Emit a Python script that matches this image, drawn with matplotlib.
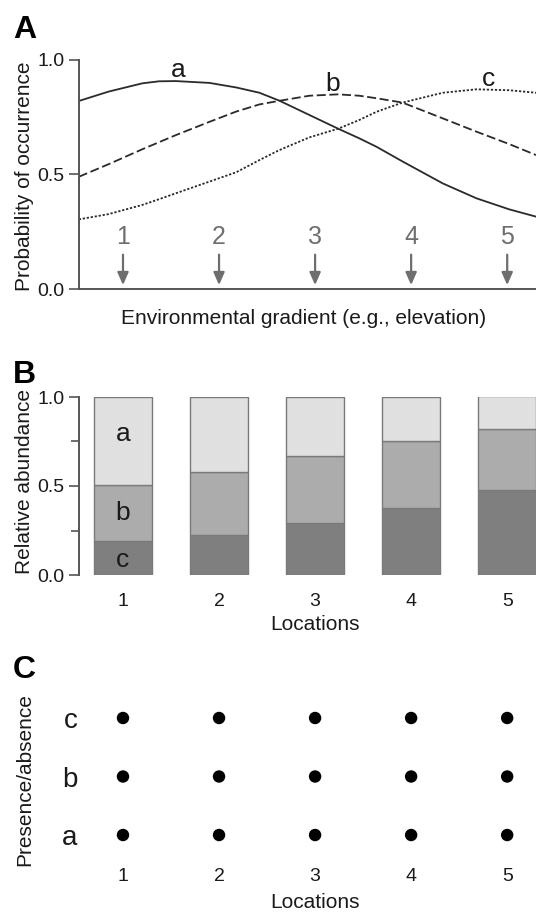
import matplotlib
matplotlib.use("Agg")
import matplotlib.pyplot as plt

plt.rcParams['font.family'] = ['Liberation Sans', 'DejaVu Sans']
plt.rcParams['lines.scale_dashes'] = False

# ---------------- data ----------------
locations = [1, 2, 3, 4, 5]
location_labels = ['1', '2', '3', '4', '5']
species = ['a', 'b', 'c']

# Panel A: probability of occurrence along the gradient
gradient_x = [0.54, 0.85, 1.2, 1.375, 1.55, 1.9, 2.18, 2.42, 2.63, 2.94, 3.24,
              3.46, 3.64, 3.91, 4.33, 4.68, 5.02, 5.30]
prob_a = [0.821, 0.862, 0.898, 0.907, 0.908, 0.900, 0.880, 0.857, 0.822, 0.760, 0.700,
          0.658, 0.621, 0.557, 0.461, 0.396, 0.348, 0.316]
prob_b = [0.490, 0.545, 0.610, 0.641, 0.672, 0.730, 0.775, 0.806, 0.822, 0.844, 0.850,
          0.844, 0.833, 0.814, 0.745, 0.687, 0.633, 0.585]
prob_c = [0.304, 0.327, 0.367, 0.392, 0.418, 0.469, 0.510, 0.563, 0.607, 0.662, 0.700,
          0.738, 0.774, 0.814, 0.857, 0.872, 0.868, 0.857]

# Panel B: relative abundance (stacked, c at bottom)
abund_c = [0.190, 0.223, 0.290, 0.378, 0.478]
abund_b = [0.317, 0.357, 0.377, 0.372, 0.345]
abund_a = [0.493, 0.420, 0.333, 0.250, 0.185]

# Panel C: presence/absence (1 = present)
presence = {'a': [1, 1, 1, 1, 1], 'b': [1, 1, 1, 1, 1], 'c': [1, 1, 1, 1, 1]}

# ---------------- layout ----------------
W, H = 536, 913
fig = plt.figure(figsize=(W / 100, H / 100), dpi=100)


def rect(l, t, r, b):
    return [l / W, 1 - b / H, (r - l) / W, (b - t) / H]


axA = fig.add_axes(rect(79, 60, 536, 289))
axB = fig.add_axes(rect(79, 397, 536, 575))
axC = fig.add_axes(rect(79, 695, 536, 860))

XLIM = (0.542, 5.30)
spine_col = '#555555'
txt_col = '#1a1a1a'
gray = '#6e6e6e'
line_col = '#2a2a2a'
TICK = 14
LET = 19

for ax in (axA, axB, axC):
    ax.set_xlim(*XLIM)
    for s in ('top', 'right'):
        ax.spines[s].set_visible(False)
    for s in ('left', 'bottom'):
        ax.spines[s].set_color(spine_col)
        ax.spines[s].set_linewidth(1.4)

# ---------------- Panel A ----------------
axA.plot(gradient_x, prob_a, color=line_col, lw=1.3, solid_joinstyle='round')
axA.plot(gradient_x, prob_b, color=line_col, lw=1.3, dashes=(6.5, 2.6))
axA.plot(gradient_x, prob_c, color=line_col, lw=1.3, dashes=(1.6, 1.3))
axA.set_ylim(0, 1)
axA.set_yticks([0, 0.5, 1.0])
axA.set_yticklabels(['0.0', '0.5', '1.0'])
axA.set_xticks([])
axA.tick_params(axis='y', length=7.5, width=1.2, color=spine_col, pad=3,
                labelsize=TICK, labelcolor=txt_col)
axA.text(1.58, 0.955, 'a', ha='center', va='center', fontsize=LET, color=txt_col)
axA.text(3.18, 0.895, 'b', ha='center', va='center', fontsize=LET, color=txt_col)
axA.text(4.81, 0.915, 'c', ha='center', va='center', fontsize=LET, color=txt_col)
for loc, lab in zip(locations, location_labels):
    axA.annotate('', xy=(loc, 0.017), xytext=(loc, 0.15),
                 arrowprops=dict(arrowstyle='-|>,head_length=0.5,head_width=0.22',
                                 color=gray, lw=1.6, mutation_scale=15,
                                 shrinkA=0, shrinkB=0))
    axA.text(loc, 0.227, lab, ha='center', va='center', fontsize=18, color=gray)
axA.set_xlabel('Environmental gradient (e.g., elevation)', fontsize=15, color=txt_col)
axA.xaxis.set_label_coords(0.492, (289 - 318) / 229)
axA.xaxis.label.set_va('center')
axA.set_ylabel('Probability of occurrence', fontsize=15, color=txt_col)
axA.yaxis.set_label_coords(-0.119, 0.493)
axA.yaxis.label.set_va('center')

# ---------------- Panel B ----------------
bar_w = 0.6
edge = '#7a7a7a'
bottom_b = [c for c in abund_c]
bottom_a = [c + b for c, b in zip(abund_c, abund_b)]
axB.bar(locations, abund_c, width=bar_w, color='#7f7f7f', edgecolor=edge, lw=1.0)
axB.bar(locations, abund_b, width=bar_w, bottom=bottom_b, color='#acacac',
        edgecolor=edge, lw=1.0)
axB.bar(locations, abund_a, width=bar_w, bottom=bottom_a, color='#e0e0e0',
        edgecolor=edge, lw=1.0)
axB.set_ylim(0, 1)
axB.spines['bottom'].set_visible(False)
axB.set_yticks([0, 0.5, 1.0])
axB.set_yticklabels(['0.0', '0.5', '1.0'])
axB.set_yticks([0.25, 0.75], minor=True)
axB.tick_params(axis='y', which='major', length=7.5, width=1.2, color=spine_col,
                pad=3, labelsize=TICK, labelcolor=txt_col)
axB.tick_params(axis='y', which='minor', length=5.5, width=1.2, color=spine_col)
axB.set_xticks(locations)
axB.set_xticklabels(location_labels)
axB.tick_params(axis='x', length=0, pad=13, labelsize=TICK, labelcolor=txt_col)
axB.text(locations[0], 0.79, 'a', ha='center', va='center', fontsize=LET, color=txt_col)
axB.text(locations[0], abund_c[0] + abund_b[0] / 2, 'b', ha='center', va='center',
         fontsize=LET, color=txt_col)
axB.text(locations[0], abund_c[0] / 2 - 0.01, 'c', ha='center', va='center',
         fontsize=LET, color=txt_col)
axB.set_xlabel('Locations', fontsize=15, color=txt_col)
axB.xaxis.set_label_coords(0.516, (575 - 625) / 178)
axB.xaxis.label.set_va('center')
axB.set_ylabel('Relative abundance', fontsize=15, color=txt_col)
axB.yaxis.set_label_coords(-0.119, 0.528)
axB.yaxis.label.set_va('center')

# ---------------- Panel C ----------------
for i, sp in enumerate(species):
    xs = [loc for loc, p in zip(locations, presence[sp]) if p]
    axC.scatter(xs, [i] * len(xs), s=80, color='black', edgecolors='none')
axC.set_ylim(-0.427, 2.393)
for s in ('left', 'bottom'):
    axC.spines[s].set_visible(False)
axC.set_yticks(range(len(species)))
axC.set_yticklabels(species)
axC.tick_params(axis='y', length=0, pad=1, labelsize=20, labelcolor=txt_col)
axC.set_xticks(locations)
axC.set_xticklabels(location_labels)
axC.tick_params(axis='x', length=0, pad=6, labelsize=TICK, labelcolor=txt_col)
axC.set_xlabel('Locations', fontsize=15, color=txt_col)
axC.xaxis.set_label_coords(0.516, (860 - 902) / 165)
axC.xaxis.label.set_va('center')
axC.set_ylabel('Presence/absence', fontsize=15, color=txt_col)
axC.yaxis.set_label_coords(-0.119, 0.488)
axC.yaxis.label.set_va('center')

# ---------------- panel letters ----------------
for letter, base in (('A', 38), ('B', 383), ('C', 678)):
    fig.text(13 / W, 1 - base / H, letter, fontsize=23, fontweight='bold',
             ha='left', va='baseline', color='black')

fig.savefig('out.png', dpi=100)
